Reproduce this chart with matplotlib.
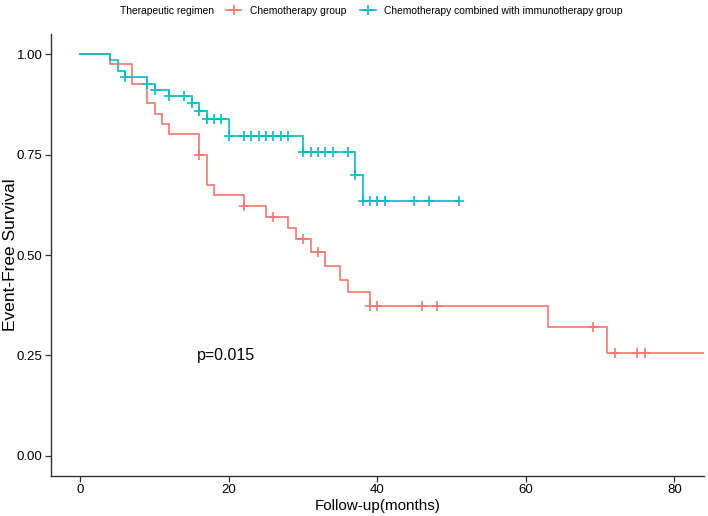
import matplotlib
matplotlib.use("Agg")
import matplotlib.pyplot as plt
from matplotlib.lines import Line2D
import numpy as np

plt.rcParams['font.family'] = ['Liberation Sans', 'DejaVu Sans']

# Kaplan-Meier steps (time in months, survival after the step)
chemo_times = [0, 4, 7, 9, 10, 11, 12, 16, 17, 18, 22, 25, 28, 29, 31, 33, 35, 36, 39, 63, 71]
chemo_surv = [1.0, 0.975, 0.925, 0.878, 0.851, 0.826, 0.800, 0.750, 0.674, 0.649, 0.622,
              0.594, 0.568, 0.540, 0.508, 0.473, 0.439, 0.407, 0.373, 0.321, 0.257]
chemo_end = 84
chemo_censor = [16, 22, 26, 30, 32, 39, 40, 46, 48, 69, 72, 75, 76]

combo_times = [0, 4, 5, 6, 9, 10, 12, 15, 16, 17, 20, 30, 37, 38]
combo_surv = [1.0, 0.986, 0.957, 0.942, 0.925, 0.911, 0.896, 0.878, 0.859, 0.838,
              0.796, 0.756, 0.700, 0.635]
combo_end = 51
combo_censor = [6, 9, 10, 12, 14, 15, 16, 17, 18, 19, 20, 22, 23, 24, 25, 26, 27, 28,
                30, 31, 32, 33, 34, 36, 37, 38, 39, 40, 41, 45, 47, 51]

groups = ["Chemotherapy group", "Chemotherapy combined with immunotherapy group"]
colors = ["#F8766D", "#00BFC4"]
legend_title = "Therapeutic regimen"
p_text = "p=0.015"

x_ticks = [0, 20, 40, 60, 80]
y_ticks = [0.00, 0.25, 0.50, 0.75, 1.00]


def surv_at(times, surv, t):
    idx = np.searchsorted(times, t, side='right') - 1
    return np.array(surv)[idx]


W, H = 708, 516
fig = plt.figure(figsize=(W / 100, H / 100), dpi=100)
ax = fig.add_axes([50.7 / W, 40 / H, (704 - 50.7) / W, (476 - 34) / H])

series = [
    (chemo_times, chemo_surv, chemo_end, chemo_censor),
    (combo_times, combo_surv, combo_end, combo_censor),
]
for (times, surv, end, cens), col in zip(series, colors):
    ax.step(list(times) + [end], list(surv) + [surv[-1]], where='post',
            color=col, lw=1.2, solid_joinstyle='miter')
    ax.plot(cens, surv_at(times, surv, cens), ls='none', marker='+',
            ms=6.5, mew=1.2, color=col)

ax.set_xlim(-4, 84)
ax.set_ylim(-0.05, 1.05)
ax.set_xticks(x_ticks)
ax.set_yticks(y_ticks)
ax.set_yticklabels([f"{v:.2f}" for v in y_ticks])
ax.tick_params(axis='both', direction='out', length=4, width=0.9, color='#333333',
               labelsize=9.5, labelcolor='black', pad=2)
for side in ['top', 'right']:
    ax.spines[side].set_visible(False)
for side in ['left', 'bottom']:
    ax.spines[side].set_color('#333333')
    ax.spines[side].set_linewidth(1.0)

ax.set_xlabel("Follow-up(months)", fontsize=11, labelpad=2)
fig.text(11 / W, 1 - 255 / H, "Event-Free Survival", fontsize=12.5, rotation=90,
         ha='center', va='center')

ax.text(15.7, 0.25, p_text, fontsize=11.5, ha='left', va='center')

# legend on one line at the top
fig.text(120 / W, 1 - 11 / H, legend_title, fontsize=7.4, ha='left', va='center')
handles = [Line2D([], [], color=c, lw=1.2, marker='+', ms=7, mew=1.2) for c in colors]
fig.legend(handles, groups, loc='center left', bbox_to_anchor=(226 / W, 1 - 11 / H),
           ncol=2, frameon=False, fontsize=7.4, handlelength=1.5, handletextpad=0.8,
           columnspacing=1.4, borderpad=0, borderaxespad=0)

fig.savefig("out.png", dpi=100)
